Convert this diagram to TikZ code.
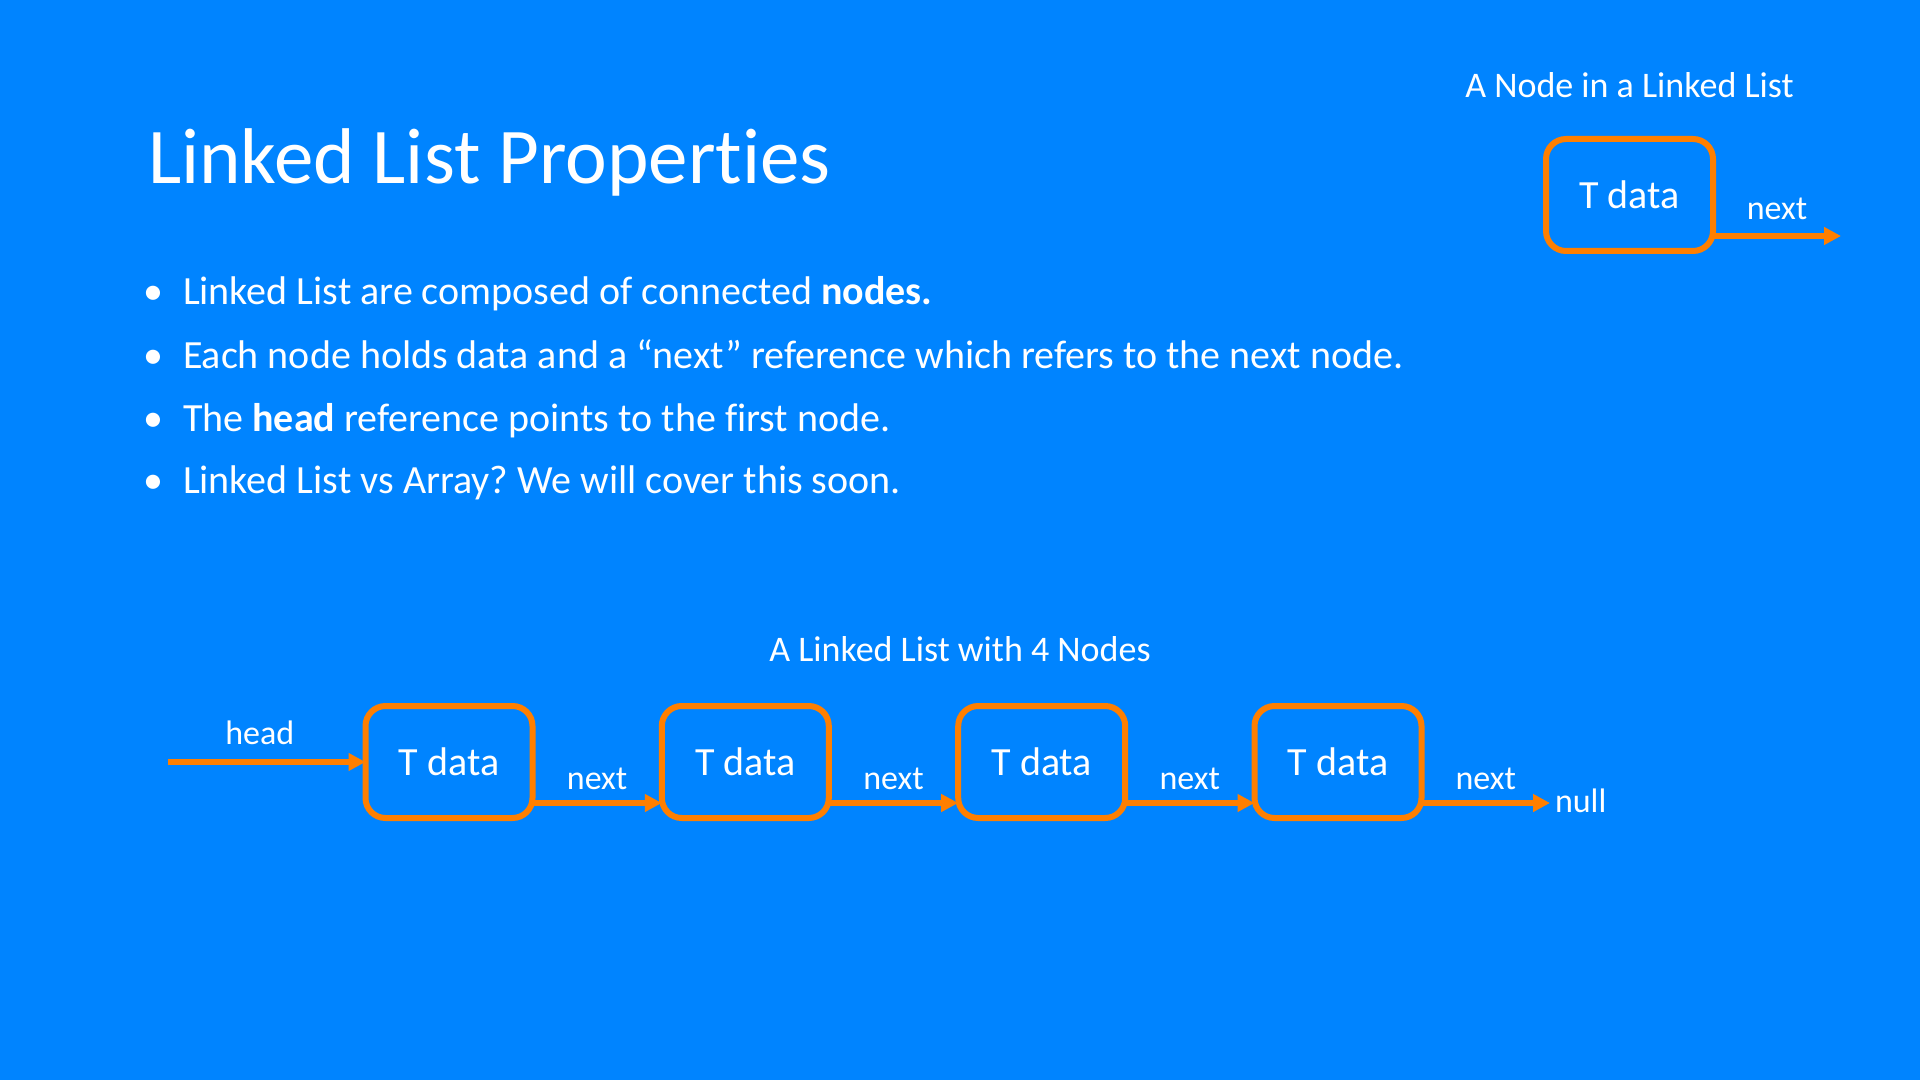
\documentclass[tikz,border=0pt]{standalone}
\usepackage{fontspec}
\setmainfont{Carlito}[Ligatures=NoCommon]
\usetikzlibrary{arrows.meta,calc}
\definecolor{slidebg}{HTML}{0084FF}
\definecolor{linkorange}{HTML}{FF7F00}
\frenchspacing
\begin{document}
\begin{tikzpicture}[x=0.5pt,y=-0.5pt,
  every node/.style={text=white, inner sep=0pt, outer sep=0pt},
  slidetitle/.style={font=\fontsize{39.5pt}{44pt}\selectfont, anchor=base west},
  bullettext/.style={font=\fontsize{20pt}{24pt}\selectfont, anchor=base west},
  bulletmark/.style={font=\fontsize{20pt}{24pt}\selectfont, anchor=base},
  caption/.style={font=\fontsize{18pt}{21pt}\selectfont, anchor=base},
  listnode/.style={draw=linkorange, line width=3pt, rounded corners=10pt,
    minimum width=83.5pt, minimum height=56pt,
    font=\fontsize{20pt}{24pt}\selectfont},
  link/.style={draw=linkorange, line width=3pt,
    -{Triangle[length=8.5pt,width=8.5pt]}},
  smalltext/.style={font=\fontsize{17pt}{20pt}\selectfont},
  linklabel/.style={smalltext, anchor=base, midway, yshift=7pt}
]
% slide background
\fill[slidebg] (0,0) rectangle (1920,1080);
\useasboundingbox (0,0) rectangle (1920,1080);

% title
\node[slidetitle] (title) at (148,184) {Linked List Properties};

% bullet list
\node[bulletmark] (b1) at (153,305) {•};
\node[bullettext] (t1) at (183,305) {Linked List are composed of connected \textbf{nodes.}};
\node[bulletmark] (b2) at (153,368) {•};
\node[bullettext] (t2) at (183,368) {Each node holds data and a “next” reference which refers to the next node.};
\node[bulletmark] (b3) at (153,431) {•};
\node[bullettext] (t3) at (183,431) {The \textbf{head} reference points to the first node.};
\node[bulletmark] (b4) at (153,493) {•};
\node[bullettext] (t4) at (183,493) {Linked List vs Array? We will cover this soon.};

% a single node
\node[caption] (singlecap) at (1629.5,98) {A Node in a Linked List};
\node[listnode] (single) at (1629.5,195) {T data};
\coordinate (singleend) at (1841,236);
\draw[link] ([yshift=-20.5pt]single.east) -- node[linklabel, yshift=1pt] {next} (singleend);

% a list of four nodes
\node[caption] (listcap) at (960,661) {A Linked List with 4 Nodes};
\node[listnode] (n1) at (449,762) {T data};
\node[listnode] (n2) at (745.3,762) {T data};
\node[listnode] (n3) at (1041.7,762) {T data};
\node[listnode] (n4) at (1338,762) {T data};

\coordinate (headstart) at (168,762);
\draw[link] (headstart) -- node[linklabel, xshift=-3.5pt, yshift=2pt] {head} (n1.west);

\draw[link] ([yshift=-20.5pt]n1.east) -- node[linklabel] {next} ([yshift=-20.5pt]n2.west);
\draw[link] ([yshift=-20.5pt]n2.east) -- node[linklabel] {next} ([yshift=-20.5pt]n3.west);
\draw[link] ([yshift=-20.5pt]n3.east) -- node[linklabel] {next} ([yshift=-20.5pt]n4.west);

\coordinate (nullend) at (1550,803);
\draw[link] ([yshift=-20.5pt]n4.east) -- node[linklabel] {next} (nullend);
\node[smalltext, anchor=base west] (null) at (1555,812) {null};
\end{tikzpicture}
\end{document}
